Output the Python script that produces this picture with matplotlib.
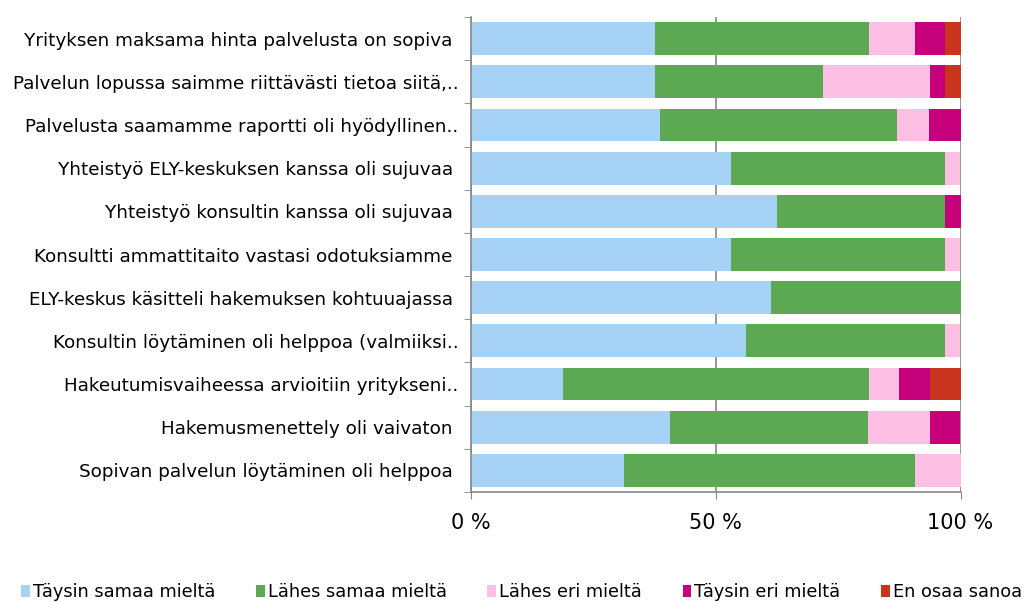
import numpy as np
import matplotlib.pyplot as plt

# non-truncated labels carry a trailing space like in the source sheet
questions = [
    "Yrityksen maksama hinta palvelusta on sopiva ",
    "Palvelun lopussa saimme riittävästi tietoa siitä,..",
    "Palvelusta saamamme raportti oli hyödyllinen..",
    "Yhteistyö ELY-keskuksen kanssa oli sujuvaa ",
    "Yhteistyö konsultin kanssa oli sujuvaa ",
    "Konsultti ammattitaito vastasi odotuksiamme ",
    "ELY-keskus käsitteli hakemuksen kohtuuajassa ",
    "Konsultin löytäminen oli helppoa (valmiiksi..",
    "Hakeutumisvaiheessa arvioitiin yritykseni..",
    "Hakemusmenettely oli vaivaton ",
    "Sopivan palvelun löytäminen oli helppoa ",
]

series = ["Täysin samaa mieltä", "Lähes samaa mieltä", "Lähes eri mieltä",
          "Täysin eri mieltä", "En osaa sanoa"]

taysin_samaa = [37.5, 37.5, 38.7, 53.1, 62.5, 53.1, 61.3, 56.2, 18.75, 40.6, 31.25]
lahes_samaa = [43.75, 34.4, 48.4, 43.75, 34.4, 43.75, 38.7, 40.6, 62.5, 40.6, 59.4]
lahes_eri = [9.4, 21.9, 6.45, 3.1, 0, 3.1, 0, 3.1, 6.25, 12.5, 9.4]
taysin_eri = [6.25, 3.1, 6.45, 0, 3.1, 0, 0, 0, 6.25, 6.25, 0]
en_osaa = [3.1, 3.1, 0, 0, 0, 0, 0, 0, 6.25, 0, 0]

colors = ["#A6D3F5", "#5DA853", "#FDBFE3", "#C6007A", "#C9341C"]

values = [taysin_samaa, lahes_samaa, lahes_eri, taysin_eri, en_osaa]

fig = plt.figure(figsize=(10.26, 6.02), dpi=100)
ax = fig.add_axes([471 / 1026, 1 - 492 / 602, 489.5 / 1026, 475 / 602])

y = np.arange(len(questions))[::-1]
left = np.zeros(len(questions))
for name, vals, col in zip(series, values, colors):
    vals = np.array(vals)
    ax.barh(y, vals, left=left, height=0.76, color=col, label=name, zorder=2)
    left += vals

ax.set_xlim(0, 100)
ax.set_ylim(-0.5, len(questions) - 0.5)
ax.set_xticks([0, 50, 100])
ax.set_xticklabels(["0 %", "50 %", "100 %"], fontsize=15)
ax.set_yticks(y)
ax.set_yticklabels(questions, fontsize=13.2)
ax.tick_params(axis="y", length=0, pad=9)
ax.set_yticks(np.arange(-0.5, len(questions), 1), minor=True)
ax.tick_params(axis="y", which="minor", length=5, color="#868686", direction="out")
ax.tick_params(axis="x", length=5, color="#868686", pad=10)
ax.xaxis.grid(True, color="#868686", linewidth=1.2, zorder=0)

for s in ["top", "right"]:
    ax.spines[s].set_visible(False)
for s in ["left", "bottom"]:
    ax.spines[s].set_color("#868686")
    ax.spines[s].set_linewidth(1.2)

leg = fig.legend(loc="lower left", bbox_to_anchor=(0.005, -0.025), ncol=5, frameon=False,
                 fontsize=12.8, handlelength=0.5, handleheight=0.7, handletextpad=0.15,
                 columnspacing=2.3)

fig.savefig("out.png", dpi=100)
